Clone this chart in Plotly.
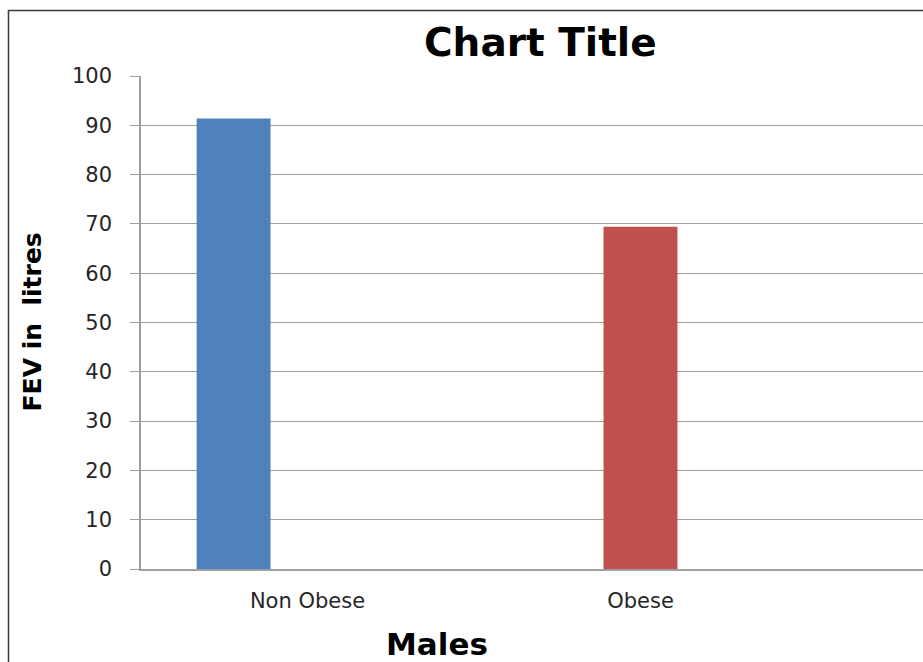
import plotly.graph_objects as go

categories = ["Non Obese", "Obese"]
fev_values = [91.4, 69.4]
bar_colors = ["#4F81BD", "#C0504D"]
bar_offsets = [-0.333, -0.111]
y_ticks = [0, 10, 20, 30, 40, 50, 60, 70, 80, 90, 100]

W, H = 923, 662
L, T, B = 141, 76, 93
plot_w = W - L
plot_h = H - T - B
band = 333.0

fig = go.Figure()
for cat, val, col, off in zip(categories, fev_values, bar_colors, bar_offsets):
    fig.add_trace(go.Bar(
        x=[cat], y=[val], marker=dict(color=col, line=dict(width=0)),
        width=0.222, offset=off, showlegend=False,
    ))

font_family = "DejaVu Sans"
grid_col = "#A0A0A0"

fig.update_layout(
    width=W, height=H,
    margin=dict(l=L, r=0, t=T, b=B, pad=0),
    paper_bgcolor="white", plot_bgcolor="white",
    barmode="overlay",
    showlegend=False,
    font=dict(family=font_family, color="#262626"),
    xaxis=dict(
        type="category",
        categoryorder="array", categoryarray=categories,
        range=[-0.5, -0.5 + plot_w / band],
        showgrid=False, zeroline=False,
        showline=True, linecolor=grid_col, linewidth=1.5,
        ticks="", tickfont=dict(size=21, family=font_family, color="#262626"),
        ticklabelstandoff=12,
    ),
    yaxis=dict(
        range=[0, 100], tickvals=y_ticks,
        showgrid=True, gridcolor=grid_col, gridwidth=1.3,
        zeroline=False,
        showline=True, linecolor=grid_col, linewidth=1.5,
        ticks="outside", ticklen=9, tickcolor=grid_col, tickwidth=1.3,
        tickfont=dict(size=21, family=font_family, color="#262626"),
        ticklabelstandoff=14,
    ),
)

# Chart title
fig.add_annotation(
    text="<b>Chart Title</b>", xref="paper", yref="paper",
    x=(540 - L) / plot_w, y=1, yshift=(T - 42), xanchor="center", yanchor="middle",
    showarrow=False, font=dict(size=39, family=font_family, color="black"),
)
# Y axis title
fig.add_annotation(
    text="<b>FEV in  litres</b>", xref="paper", yref="paper",
    x=0, xshift=-(L - 32), y=0.5, xanchor="center", yanchor="middle",
    textangle=-90, showarrow=False,
    font=dict(size=25, family=font_family, color="black"),
)
# X axis title
fig.add_annotation(
    text="<b>Males</b>", xref="paper", yref="paper",
    x=(437 - L) / plot_w, y=0, yshift=-(644 - (H - B)), xanchor="center", yanchor="middle",
    showarrow=False, font=dict(size=31, family=font_family, color="black"),
)
# Outer chart border (left and top visible)
fig.add_shape(
    type="rect", xref="paper", yref="paper",
    x0=(8.5 - L) / plot_w, x1=1.2,
    y0=-0.4, y1=((H - B) - 10.5) / plot_h,
    line=dict(color="#3A3A3A", width=1.5), fillcolor="rgba(0,0,0,0)",
    layer="below",
)

fig.write_html("out.html")
